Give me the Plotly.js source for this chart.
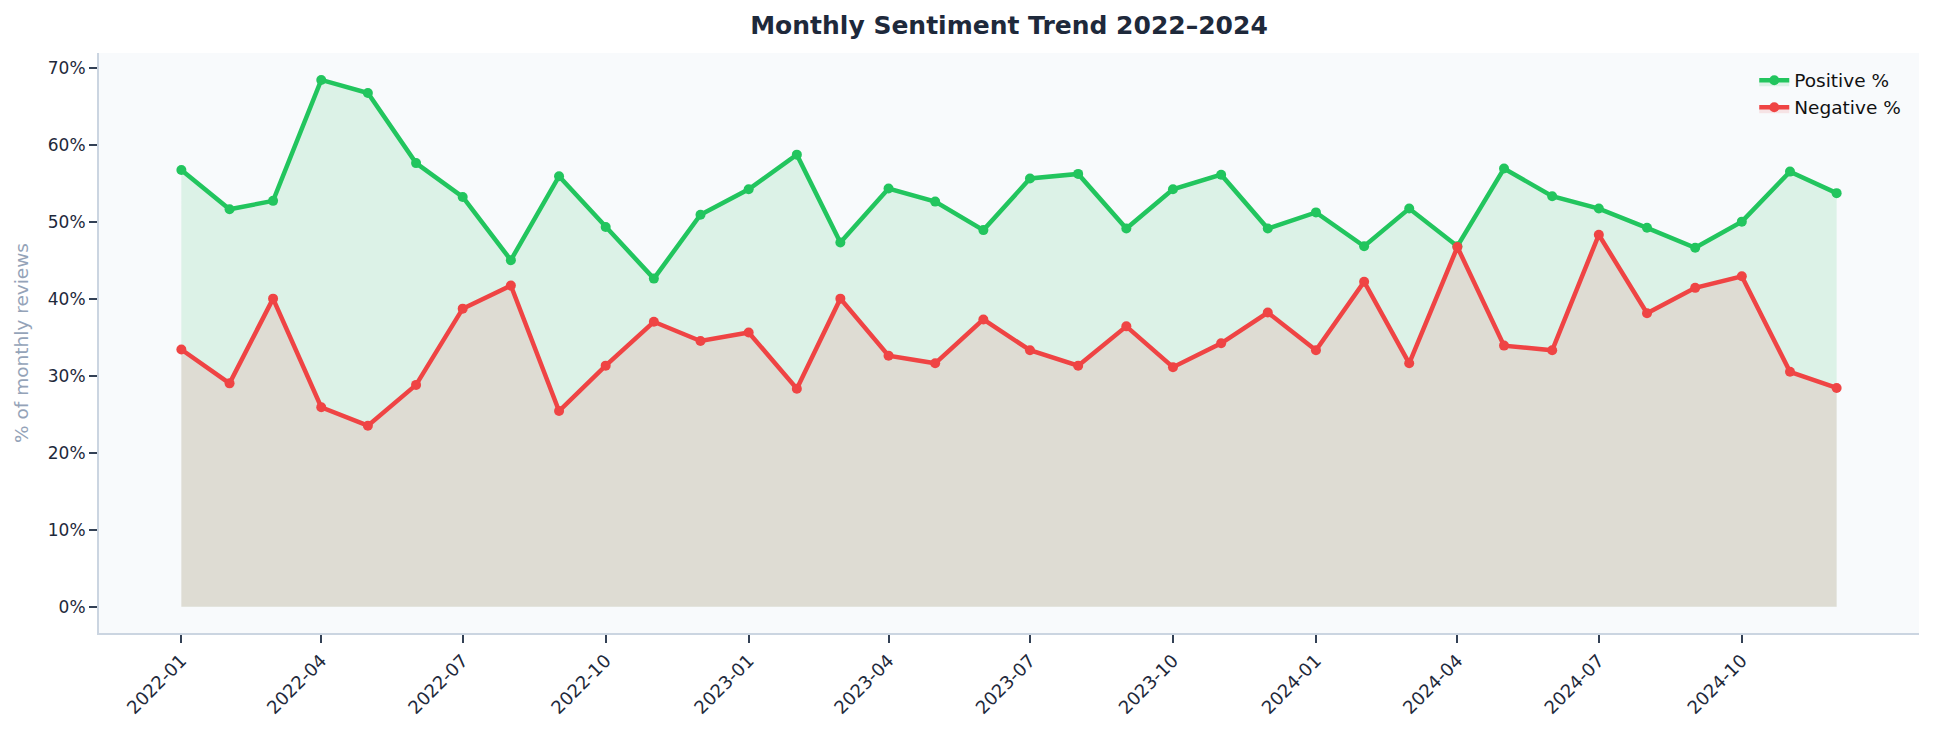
<!DOCTYPE html>
<html>
<head>
<meta charset="utf-8">
<script src="https://cdn.plot.ly/plotly-3.0.1.min.js"></script>
<style>
  html, body { margin: 0; padding: 0; background: #ffffff; }
  #grafico { width: 1934px; height: 732px; }
</style>
</head>
<body>
<div id="grafico"></div>
<script>
// meses (primer dia de cada mes)
const meses = [
  "2022-01-01", "2022-02-01", "2022-03-01", "2022-04-01", "2022-05-01", "2022-06-01",
  "2022-07-01", "2022-08-01", "2022-09-01", "2022-10-01", "2022-11-01", "2022-12-01",
  "2023-01-01", "2023-02-01", "2023-03-01", "2023-04-01", "2023-05-01", "2023-06-01",
  "2023-07-01", "2023-08-01", "2023-09-01", "2023-10-01", "2023-11-01", "2023-12-01",
  "2024-01-01", "2024-02-01", "2024-03-01", "2024-04-01", "2024-05-01", "2024-06-01",
  "2024-07-01", "2024-08-01", "2024-09-01", "2024-10-01", "2024-11-01", "2024-12-01"
];

// % positivo por mes
const positivos = [
  56.7, 51.6, 52.7, 68.4, 66.7, 57.6, 53.2, 45.0, 55.9, 49.3, 42.6, 50.9,
  54.2, 58.7, 47.3, 54.3, 52.6, 48.9, 55.6, 56.2, 49.1, 54.2, 56.1, 49.1,
  51.2, 46.8, 51.7, 46.8, 56.9, 53.3, 51.7, 49.2, 46.6, 50.0, 56.5, 53.7
];

// % negativo por mes
const negativos = [
  33.4, 29.0, 40.0, 25.9, 23.5, 28.8, 38.7, 41.7, 25.4, 31.3, 37.0, 34.5,
  35.6, 28.3, 40.0, 32.6, 31.6, 37.3, 33.3, 31.3, 36.4, 31.1, 34.2, 38.2,
  33.3, 42.2, 31.6, 46.7, 33.9, 33.3, 48.3, 38.1, 41.4, 42.9, 30.5, 28.4
];

// etiquetas del eje x: un mes de cada tres
const ticksX = meses.filter((m, i) => i % 3 === 0);
const etiquetasX = ticksX.map(m => m.slice(0, 7));

const fuente = "DejaVu Sans, Verdana, sans-serif";

Plotly.newPlot(
  "grafico",
  [
    {
      x: meses,
      y: positivos,
      name: "Positive %",
      type: "scatter",
      mode: "lines+markers",
      fill: "tozeroy",
      fillcolor: "rgba(34,197,94,0.13)",
      line: { color: "#22c55e", width: 4.5 },
      marker: { color: "#22c55e", size: 10 }
    },
    {
      x: meses,
      y: negativos,
      name: "Negative %",
      type: "scatter",
      mode: "lines+markers",
      fill: "tozeroy",
      fillcolor: "rgba(239,68,68,0.12)",
      line: { color: "#ef4444", width: 4.5 },
      marker: { color: "#ef4444", size: 10 }
    }
  ],
  {
    width: 1934,
    height: 732,
    margin: { l: 99, r: 15, t: 53, b: 99 },
    paper_bgcolor: "#ffffff",
    plot_bgcolor: "#f8fafc",
    font: { family: fuente, color: "#1e293b", size: 17 },
    title: {
      text: "<b>Monthly Sentiment Trend 2022–2024</b>",
      font: { family: fuente, size: 25, color: "#1e293b" },
      xref: "paper",
      x: 0.5,
      xanchor: "center",
      yref: "container",
      y: 0.966,
      yanchor: "middle"
    },
    xaxis: {
      type: "date",
      range: ["2021-11-09", "2025-01-23"],
      tickvals: ticksX,
      ticktext: etiquetasX,
      tickangle: -45,
      ticks: "outside",
      ticklen: 8,
      tickwidth: 2,
      tickcolor: "#334155",
      showgrid: false,
      zeroline: false,
      showline: true,
      linecolor: "#cbd5e1",
      linewidth: 2,
      tickfont: { family: fuente, size: 18, color: "#1e293b" }
    },
    yaxis: {
      range: [-3.42, 71.9],
      dtick: 10,
      tick0: 0,
      ticksuffix: "%",
      ticks: "outside",
      ticklen: 8,
      tickwidth: 2,
      tickcolor: "#334155",
      showgrid: false,
      zeroline: false,
      showline: true,
      linecolor: "#cbd5e1",
      linewidth: 2,
      tickfont: { family: fuente, size: 17, color: "#1e293b" },
      title: {
        text: "% of monthly reviews",
        font: { family: fuente, size: 18.5, color: "#94a3b8" },
        standoff: 14
      }
    },
    legend: {
      x: 0.993,
      y: 0.985,
      xanchor: "right",
      yanchor: "top",
      bgcolor: "rgba(0,0,0,0)",
      font: { family: fuente, size: 18.5, color: "#111111" },
      tracegroupgap: 0
    },
    showlegend: true
  },
  { displayModeBar: false, responsive: false }
);
</script>
</body>
</html>
